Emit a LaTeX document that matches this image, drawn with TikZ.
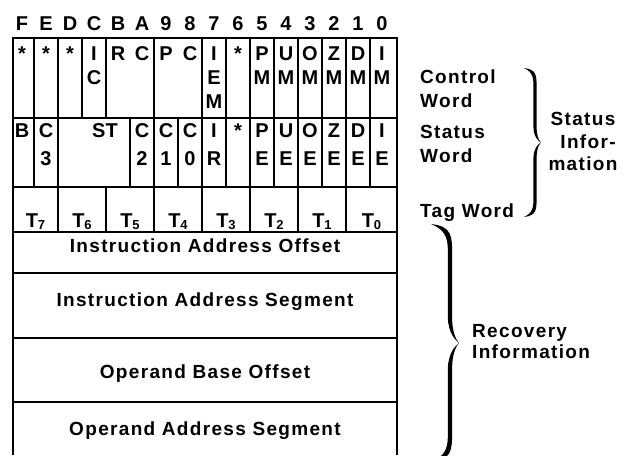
\documentclass[tikz,border=0pt]{standalone}
\usepackage{fontspec}
\setmainfont{Liberation Sans}[BoldFont={Liberation Sans Bold}]
\newfontfamily\lblfont{Liberation Sans}[LetterSpace=7]
\newfontfamily\cellfont{Liberation Sans}
\newcommand\calbrace[6]{% #1 x end, #2 y top, #3 y bottom, #4 x body, #5 x tip, #6 width
  \pgfmathsetmacro\cbm{(#2+#3)/2}
  \pgfmathsetmacro\cbh{#3-#2}
  \pgfmathsetmacro\cbl{#4-#6/2}
  \pgfmathsetmacro\cbr{#4+#6/2}
  \pgfmathsetmacro\cya{#2+0.13*\cbh}
  \pgfmathsetmacro\cyb{\cbm-0.11*\cbh}
  \pgfmathsetmacro\cyc{\cbm+0.11*\cbh}
  \pgfmathsetmacro\cyd{#3-0.13*\cbh}
  \fill (#1,#2)
    .. controls ({\cbr},{#2+0.01*\cbh}) and ({\cbr},{#2+0.05*\cbh}) .. ({\cbr},{\cya})
    -- ({\cbr},{\cyb})
    .. controls ({\cbr},{\cbm-0.03*\cbh}) and ({#5-1},{\cbm-0.006*\cbh}) .. ({#5},{\cbm})
    .. controls ({#5-1},{\cbm+0.006*\cbh}) and ({\cbr},{\cbm+0.03*\cbh}) .. ({\cbr},{\cyc})
    -- ({\cbr},{\cyd})
    .. controls ({\cbr},{#3-0.05*\cbh}) and ({\cbr},{#3-0.01*\cbh}) .. (#1,#3)
    .. controls ({\cbl},{#3-0.03*\cbh}) and ({\cbl},{#3-0.07*\cbh}) .. ({\cbl},{\cyd})
    -- ({\cbl},{\cyc})
    .. controls ({\cbl},{\cbm+0.04*\cbh}) and ({#5-3},{\cbm+0.01*\cbh}) .. ({#5},{\cbm})
    .. controls ({#5-3},{\cbm-0.01*\cbh}) and ({\cbl},{\cbm-0.04*\cbh}) .. ({\cbl},{\cyb})
    -- ({\cbl},{\cya})
    .. controls ({\cbl},{#2+0.07*\cbh}) and ({\cbl},{#2+0.03*\cbh}) .. (#1,#2) -- cycle;
}
\tikzset{
  frame/.style={line width=2.6pt},
  divider/.style={line width=2.2pt},
  cell/.style={inner sep=0pt, anchor=base, font=\cellfont\bfseries\fontsize{20}{20}\selectfont},
  lbl/.style={inner sep=0pt, anchor=base west, font=\lblfont\bfseries\fontsize{19}{19}\selectfont},
  ctr/.style={inner sep=0pt, anchor=base, font=\lblfont\bfseries\fontsize{19}{19}\selectfont},
}
\newcommand\tsub[1]{T\raisebox{-2pt}{\fontsize{13}{13}\selectfont #1}}
\begin{document}
\begin{tikzpicture}[x=1pt,y=-1pt]
\useasboundingbox (0,0) rectangle (626,455);
% frame
\draw[frame] (13,455) -- (13,38) -- (397,38) -- (397,455);
\foreach \y in {118,187,232,273,338,402}
  \draw[divider] (13,\y) -- (397,\y);
% row dividers
\foreach \x in {34,58,82,106,154,202,226,250,274,298,322,346,370}
  \draw[divider] (\x,38) -- (\x,118);
\foreach \x in {34,58,130,154,178,202,226,250,274,298,322,346,370}
  \draw[divider] (\x,118) -- (\x,187);
\foreach \x in {58,106,154,202,250,298,346}
  \draw[divider] (\x,187) -- (\x,232);
% header bit numbers
\foreach \j/\t in {0/F,1/E,2/D,3/C,4/B,5/A,6/9,7/8,8/7,9/6,10/5,11/4,12/3,13/2,14/1,15/0}
  \node[cell, name=h\j] at ({22+24*\j},30) {\t};
% control word
\foreach \j/\l/\t in {0/1/*,1/1/*,2/1/*,3/1/I,3/2/C,4/1/R,5/1/C,6/1/P,7/1/C,8/1/I,8/2/E,8/3/M,9/1/*,
  10/1/P,10/2/M,11/1/U,11/2/M,12/1/O,12/2/M,13/1/Z,13/2/M,14/1/D,14/2/M,15/1/I,15/2/M}
  \node[cell, name=cw\j\l] at ({22+24*\j},{36+24*\l}) {\t};
% status word
\foreach \j/\l/\t in {0/1/B,1/1/C,1/2/3,5/1/C,5/2/2,6/1/C,6/2/1,7/1/C,7/2/0,8/1/I,8/2/R,9/1/*,
  10/1/P,10/2/E,11/1/U,11/2/E,12/1/O,12/2/E,13/1/Z,13/2/E,14/1/D,14/2/E,15/1/I,15/2/E}
  \node[cell, name=sw\j\l] at ({22+24*\j},{109+28*\l}) {\t};
\node[cell, name=st] at (105,137) {ST};
% tag word
\foreach \k/\x in {7/35.5,6/82,5/130,4/178,3/226,2/274,1/322,0/371.5}
  \node[cell, name=t\k] at (\x,227) {\tsub{\k}};
% pointer rows
\node[ctr, name=iao] at (205,252) {Instruction Address Offset};
\node[ctr, name=ias] at (205,306) {Instruction Address Segment};
\node[ctr, name=obo] at (205,378) {Operand Base Offset};
\node[ctr, name=oas] at (205,435) {Operand Address Segment};
% right labels
\node[lbl, name=cw1] at (420,83) {Control};
\node[lbl, name=cw2] at (420,107) {Word};
\node[lbl, name=sw1] at (420,138) {Status};
\node[lbl, name=sw2] at (420,162) {Word};
\node[lbl, name=tw] at (420,217) {Tag Word};
\node[ctr, name=si1] at (583,125) {Status};
\node[ctr, name=si2] at (588,148) {Infor-};
\node[ctr, name=si3] at (583,170) {mation};
\node[lbl, name=ri1] at (472,337) {Recovery};
\node[lbl, name=ri2] at (472,358) {Information};
% braces
\calbrace{524}{68}{217}{535}{541}{3.2}
\calbrace{431}{224}{462}{450}{459}{4.2}
\end{tikzpicture}
\end{document}
